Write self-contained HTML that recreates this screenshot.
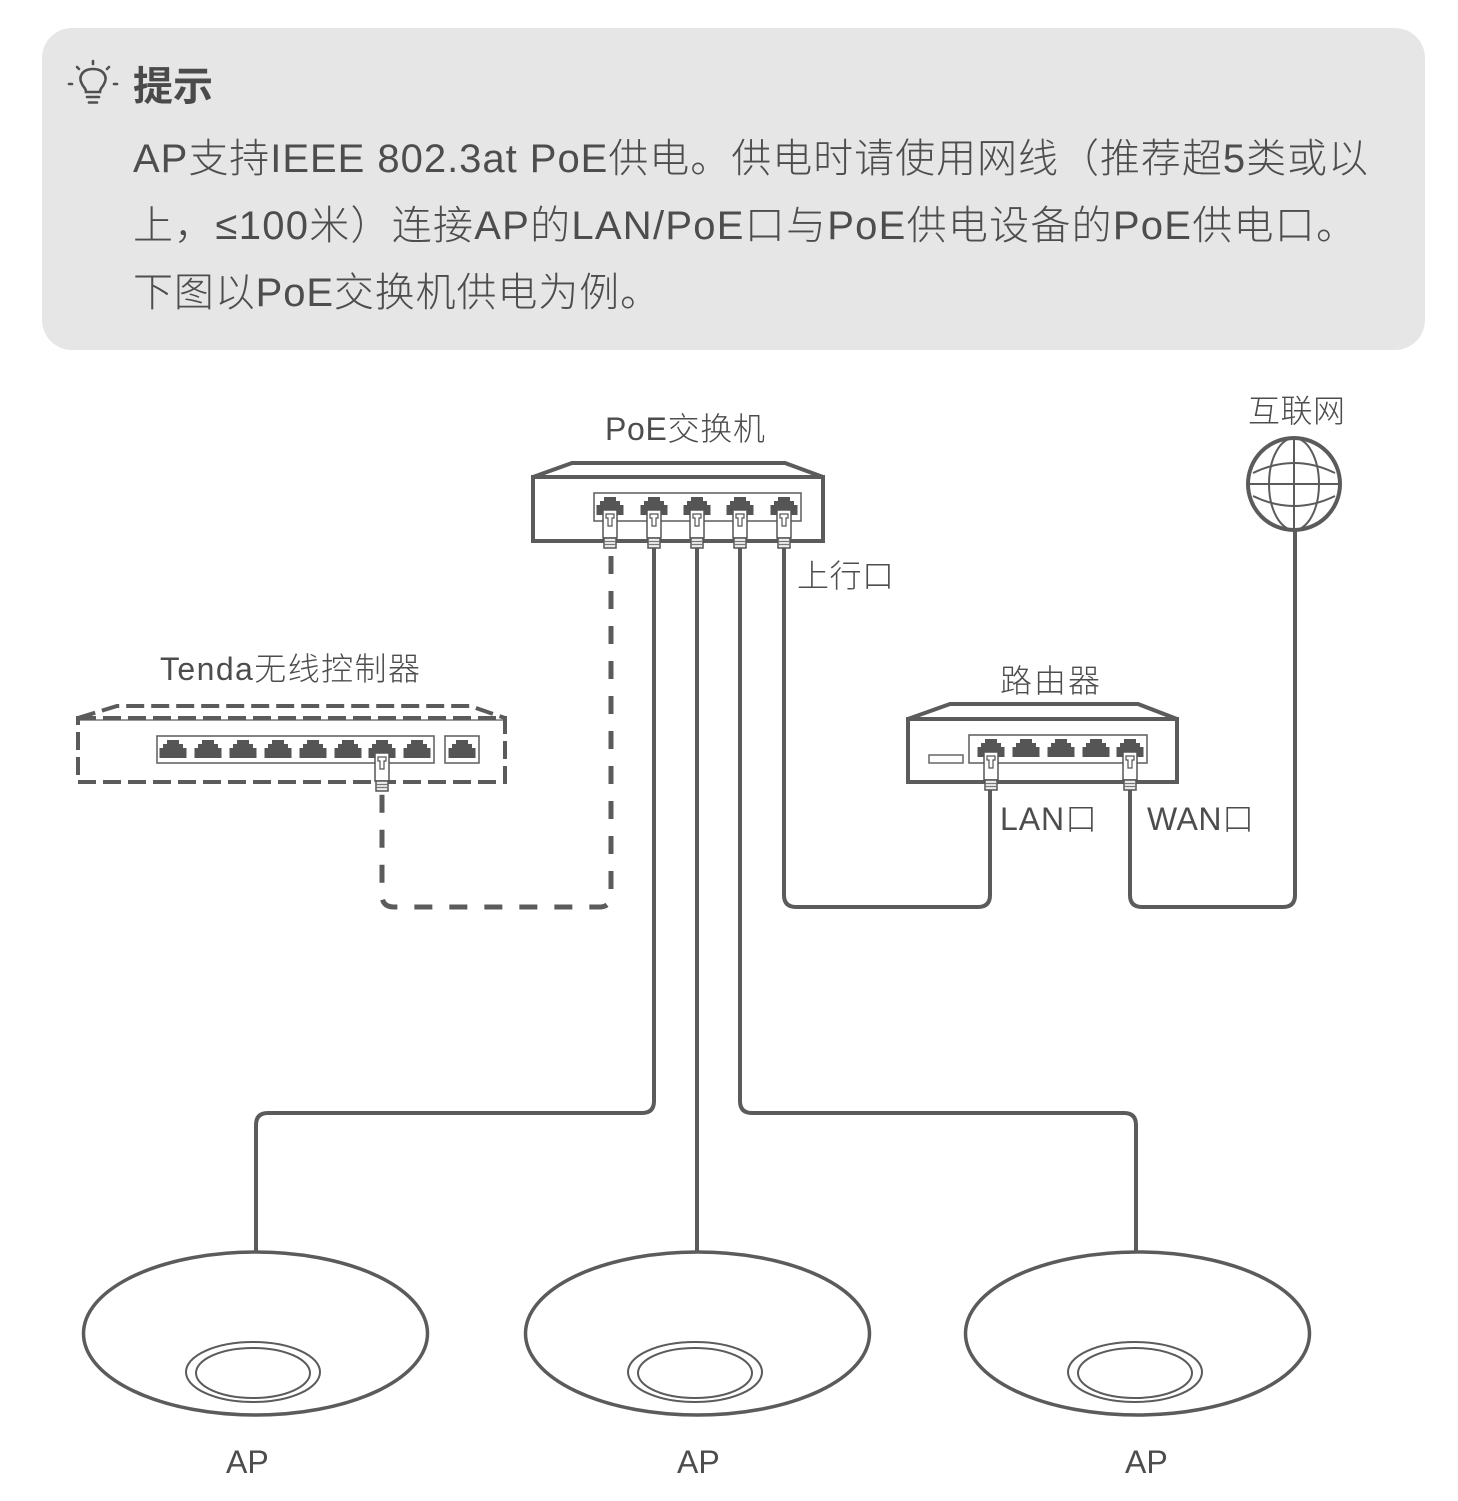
<!DOCTYPE html>
<html><head><meta charset="utf-8"><style>
html,body{margin:0;padding:0;background:#fff;}
svg{display:block;}
text{font-family:"Liberation Sans","Noto Sans CJK SC",sans-serif;fill:#4d4d4d;}
</style></head><body>
<svg width="1458" height="1501" viewBox="0 0 1458 1501" xmlns="http://www.w3.org/2000/svg">
<defs>
<g id="sock"><path d="M-6,0 H6 V4 H10 V8 H13.5 V18 H-13.5 V8 H-10 V4 H-6 Z" fill="#555"/></g>
<g id="plug">
<rect x="-7" y="13" width="14" height="28" fill="#fff" stroke="#555" stroke-width="1.5"/>
<path d="M-4,17 H4 V21 H2 V29 H-2 V21 H-4 Z" fill="none" stroke="#555" stroke-width="1.2"/>
<rect x="-6" y="41" width="12" height="10" fill="#eee" stroke="#555" stroke-width="1.5"/>
<line x1="-6" x2="6" y1="44.5" y2="44.5" stroke="#777" stroke-width="1.2"/>
<line x1="-6" x2="6" y1="47.5" y2="47.5" stroke="#777" stroke-width="1.2"/>
</g>
</defs>

<!-- tip box -->
<rect x="42" y="28" width="1383" height="322" rx="30" ry="30" fill="#e6e6e6"/>
<g stroke="#505050" stroke-width="2.6" fill="none" stroke-linecap="round">
<path d="M86,92 C86,88 83,87 82,84 C78,77 82,69 93,69 C104,69 108,77 104,84 C103,87 100,88 100,92 Z"/>
<line x1="87" y1="97" x2="99" y2="97"/>
<line x1="89" y1="102.5" x2="97" y2="102.5"/>
<line x1="93" y1="61" x2="93" y2="64"/>
<line x1="77" y1="67" x2="79" y2="69"/>
<line x1="109" y1="67" x2="107" y2="69"/>
<line x1="69" y1="84" x2="72" y2="84"/>
<line x1="114" y1="84" x2="117" y2="84"/>
</g>
<text x="133" y="100" font-size="40" font-weight="bold" style="fill:#4a4a4a">提示</text>
<text x="133" y="172" font-size="40" font-weight="300" textLength="1235" lengthAdjust="spacing">AP支持IEEE 802.3at PoE供电。供电时请使用网线（推荐超5类或以</text>
<text x="133" y="239" font-size="40" font-weight="300" textLength="1223" lengthAdjust="spacing">上，≤100米）连接AP的LAN/PoE口与PoE供电设备的PoE供电口。</text>
<text x="133" y="306" font-size="40" font-weight="300" textLength="527" lengthAdjust="spacing">下图以PoE交换机供电为例。</text>

<!-- cables -->
<g fill="none" stroke="#5b5b5b" stroke-width="4">
<path d="M784,548 V895 Q784,907 796,907 H978 Q990,907 990,895 V790"/>
<path d="M1130,790 V895 Q1130,907 1142,907 H1283 Q1295,907 1295,895 V531"/>
<path d="M654,548 V1101 Q654,1113 642,1113 H268 Q256,1113 256,1125 V1252"/>
<path d="M697,548 V1252"/>
<path d="M740,548 V1101 Q740,1113 752,1113 H1124 Q1136,1113 1136,1125 V1252"/>
</g>
<path d="M611,548 V895 Q611,907 599,907 H394 Q382,907 382,895 V790" fill="none" stroke="#5b5b5b" stroke-width="5" stroke-dasharray="18 17" stroke-dashoffset="-8"/>

<!-- PoE switch -->
<text x="605" y="440" font-size="32" font-weight="300" textLength="160" lengthAdjust="spacing">PoE交换机</text>
<path d="M533,477 L572,463 H785 L823,477" fill="#fff" stroke="#5b5b5b" stroke-width="4" stroke-linejoin="round"/>
<rect x="533" y="477" width="290" height="64" fill="#fff" stroke="#5b5b5b" stroke-width="4"/>
<rect x="594" y="493" width="207" height="28" fill="none" stroke="#666" stroke-width="1.6"/>
<use href="#sock" x="610" y="497"/><use href="#sock" x="654" y="497"/><use href="#sock" x="697" y="497"/><use href="#sock" x="740" y="497"/><use href="#sock" x="784" y="497"/>
<use href="#plug" x="610" y="497"/><use href="#plug" x="654" y="497"/><use href="#plug" x="697" y="497"/><use href="#plug" x="740" y="497"/><use href="#plug" x="784" y="497"/>
<text x="797" y="587" font-size="32" font-weight="300" textLength="97" lengthAdjust="spacing">上行口</text>

<!-- controller -->
<text x="160" y="680" font-size="32" font-weight="300" textLength="260" lengthAdjust="spacing">Tenda无线控制器</text>
<line x1="78" y1="720" x2="505" y2="720" stroke="#777" stroke-width="1.5"/>
<path d="M78,718 L117,706 H470 L505,718" fill="none" stroke="#5b5b5b" stroke-width="4" stroke-dasharray="18 7"/>
<rect x="78" y="718" width="427" height="64" fill="none" stroke="#5b5b5b" stroke-width="4" stroke-dasharray="18 7"/>
<rect x="157" y="736" width="277" height="27" fill="none" stroke="#666" stroke-width="1.6"/>
<rect x="445" y="736" width="34" height="27" fill="none" stroke="#666" stroke-width="1.6"/>
<use href="#sock" x="173" y="740"/><use href="#sock" x="208" y="740"/><use href="#sock" x="243" y="740"/><use href="#sock" x="278" y="740"/><use href="#sock" x="313" y="740"/><use href="#sock" x="348" y="740"/><use href="#sock" x="382" y="740"/><use href="#sock" x="417" y="740"/><use href="#sock" x="462" y="740"/>
<use href="#plug" x="382" y="740"/>

<!-- router -->
<text x="1000" y="692" font-size="32" font-weight="300" textLength="100" lengthAdjust="spacing">路由器</text>
<path d="M908,719 L950,704 H1138 L1177,719" fill="#fff" stroke="#5b5b5b" stroke-width="4" stroke-linejoin="round"/>
<rect x="908" y="719" width="269" height="63" fill="#fff" stroke="#5b5b5b" stroke-width="4"/>
<rect x="929" y="755" width="34" height="8" fill="none" stroke="#666" stroke-width="1.5"/>
<rect x="969" y="735" width="178" height="28" fill="none" stroke="#666" stroke-width="1.6"/>
<use href="#sock" x="991" y="739"/><use href="#sock" x="1026" y="739"/><use href="#sock" x="1061" y="739"/><use href="#sock" x="1096" y="739"/><use href="#sock" x="1130" y="739"/>
<use href="#plug" x="991" y="739"/><use href="#plug" x="1130" y="739"/>
<text x="1000" y="830" font-size="32" font-weight="300" textLength="97" lengthAdjust="spacing">LAN口</text>
<text x="1147" y="830" font-size="32" font-weight="300" textLength="107" lengthAdjust="spacing">WAN口</text>

<!-- globe -->
<text x="1248" y="422" font-size="32" font-weight="300" textLength="97" lengthAdjust="spacing">互联网</text>
<circle cx="1294" cy="484" r="46" fill="#fff" stroke="#5b5b5b" stroke-width="4"/>
<g fill="none" stroke="#5b5b5b" stroke-width="2">
<ellipse cx="1294" cy="484" rx="25" ry="46"/>
<line x1="1294" y1="438" x2="1294" y2="530"/>
<line x1="1248" y1="484" x2="1340" y2="484"/>
<path d="M1253,473 Q1294,453 1335,473"/>
<path d="M1253,496 Q1294,516 1335,496"/>
</g>

<!-- APs -->
<g fill="#fff" stroke="#5b5b5b">
<ellipse cx="255.5" cy="1333.5" rx="172" ry="81.5" stroke-width="3.5"/>
<ellipse cx="253" cy="1372" rx="67" ry="30" stroke-width="2"/>
<ellipse cx="253" cy="1373" rx="57" ry="25" stroke-width="2"/>
<ellipse cx="697.5" cy="1333.5" rx="172" ry="81.5" stroke-width="3.5"/>
<ellipse cx="695" cy="1372" rx="67" ry="30" stroke-width="2"/>
<ellipse cx="695" cy="1373" rx="57" ry="25" stroke-width="2"/>
<ellipse cx="1137.5" cy="1333.5" rx="172" ry="81.5" stroke-width="3.5"/>
<ellipse cx="1135" cy="1372" rx="67" ry="30" stroke-width="2"/>
<ellipse cx="1135" cy="1373" rx="57" ry="25" stroke-width="2"/>
</g>
<text x="226" y="1473" font-size="32" font-weight="300">AP</text>
<text x="677" y="1473" font-size="32" font-weight="300">AP</text>
<text x="1125" y="1473" font-size="32" font-weight="300">AP</text>
</svg>
</body></html>
